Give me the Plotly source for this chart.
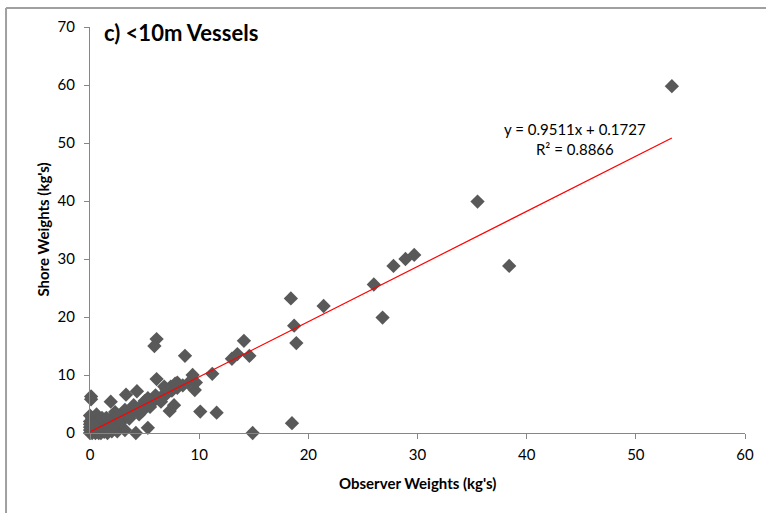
import plotly.graph_objects as go

# Observer weights (x) and shore weights (y), kg
observer = [
    53.3, 35.5, 38.4, 29.7, 28.9, 27.8, 26.0, 26.8, 21.4, 18.4, 18.7, 18.9, 18.5, 14.9,
    14.1, 14.6, 13.5, 13.0, 11.2, 11.6, 10.1, 9.4, 9.7, 9.6, 8.7, 6.1, 5.9, 6.1,
    4.3, 3.3, 1.9, 0.1, 0.1, 7.3, 7.7, 4.2, 5.3, 8.0, 7.4,
    0.0, 0.2, 0.5, 0.8, 1.0, 1.3, 1.6, 2.0, 2.5, 0.0, 0.3, 0.0, 0.5, 0.0, 0.0, 0.2,
    0.0, 0.4, 0.8, 1.0, 1.2, 1.5, 1.8, 2.2, 2.5, 3.0, 2.8, 3.2, 0.6,
    2.0, 2.5, 3.0, 3.5, 4.0, 4.5, 5.0, 5.5, 6.0, 6.5, 7.0, 7.5, 8.0, 8.5, 4.0, 5.0,
    6.0, 7.0, 5.5, 6.5, 3.6, 4.5, 7.8, 6.8, 5.3, 4.8, 3.2, 1.4, 2.3, 9.0,
    0.7, 1.1, 1.7, 2.7, 0.3, 1.5, 2.1,
]
shore = [
    59.8, 39.9, 28.8, 30.7, 30.0, 28.8, 25.6, 19.9, 21.9, 23.2, 18.5, 15.5, 1.7, 0.0,
    15.9, 13.3, 13.6, 12.8, 10.2, 3.5, 3.7, 10.0, 8.7, 7.4, 13.3, 16.2, 15.0, 9.3,
    7.2, 6.6, 5.4, 6.3, 5.8, 3.8, 4.8, 0.0, 0.9, 8.7, 8.0,
    0.0, 0.0, 0.0, 0.0, 0.0, 0.2, 0.0, 0.3, 0.3, 0.5, 0.7, 1.0, 1.2, 1.5, 2.0, 2.5,
    3.0, 2.0, 1.0, 1.5, 0.8, 1.3, 1.8, 1.2, 2.0, 2.2, 1.0, 0.5, 3.2,
    2.6, 2.8, 3.0, 3.5, 3.8, 4.3, 4.6, 5.2, 5.8, 6.2, 6.7, 7.3, 7.8, 8.2, 4.8, 5.5,
    6.5, 7.5, 4.5, 5.4, 2.5, 3.2, 8.5, 8.0, 6.0, 3.8, 4.0, 2.4, 3.6, 8.6,
    2.3, 2.6, 0.6, 1.6, 1.4, 2.6, 0.9,
]

slope = 0.9511
intercept = 0.1727
r2 = 0.8866
x_ticks = [0, 10, 20, 30, 40, 50, 60]
y_ticks = [0, 10, 20, 30, 40, 50, 60, 70]

fit_x = [0.0, max(observer)]
fit_y = [slope * v + intercept for v in fit_x]

FONT = "Lato, 'Open Sans', sans-serif"
AXIS_COLOR = "#868686"

fig = go.Figure()
fig.add_trace(go.Scatter(
    x=observer, y=shore, mode="markers",
    marker=dict(symbol="diamond", size=11, color="#595959", line=dict(width=0)),
    cliponaxis=False, showlegend=False,
))
fig.add_trace(go.Scatter(
    x=fit_x, y=fit_y, mode="lines",
    line=dict(color="#ff0000", width=1.2),
    cliponaxis=False, showlegend=False,
))

L, R, T, B = 90, 13, 27, 80
W, H = 766, 513
pw = W - L - R
ph = H - T - B

def px(xp):
    return (xp - L) / pw

def py(yp):
    return (H - B - yp) / ph

fig.update_layout(
    width=W, height=H,
    margin=dict(l=L, r=R, t=T, b=B),
    paper_bgcolor="white", plot_bgcolor="white",
    font=dict(family=FONT, color="#000000", size=15),
    xaxis=dict(
        range=[0, 60], tickvals=x_ticks, ticktext=[str(v) for v in x_ticks],
        showgrid=False, zeroline=False, showline=True, linecolor=AXIS_COLOR, linewidth=1,
        ticks="outside", ticklen=5, tickcolor=AXIS_COLOR, tickfont=dict(size=15, family=FONT),
        ticklabelstandoff=3,
    ),
    yaxis=dict(
        range=[0, 70], tickvals=y_ticks, ticktext=[str(v) for v in y_ticks],
        showgrid=False, zeroline=False, showline=True, linecolor=AXIS_COLOR, linewidth=1,
        ticks="outside", ticklen=5, tickcolor=AXIS_COLOR, tickfont=dict(size=15, family=FONT),
        ticklabelstandoff=6,
    ),
    annotations=[
        dict(text="<b>c) &lt;10m Vessels</b>", xref="paper", yref="paper",
             x=px(102), y=py(33), xanchor="left", yanchor="middle", showarrow=False,
             font=dict(size=22, family=FONT, color="#000000")),
        dict(text=f"y = {slope}x + {intercept}<br>R² = {r2}", xref="paper", yref="paper",
             x=px(581), y=py(139), xanchor="center", yanchor="middle", showarrow=False,
             align="center", font=dict(size=15, family=FONT, color="#000000")),
        dict(text="<b>Shore Weights (kg's)</b>", xref="paper", yref="paper",
             x=px(42), y=py(230), xanchor="center", yanchor="middle", showarrow=False,
             textangle=-90, font=dict(size=15, family=FONT, color="#000000")),
        dict(text="<b>Observer Weights (kg's)</b>", xref="paper", yref="paper",
             x=px(421), y=py(483), xanchor="center", yanchor="middle", showarrow=False,
             font=dict(size=15, family=FONT, color="#000000")),
    ],
    shapes=[
        dict(type="line", xref="paper", yref="paper", x0=px(5), x1=px(5), y0=py(8), y1=py(520),
             line=dict(color="#a0a0a0", width=2)),
        dict(type="line", xref="paper", yref="paper", x0=px(5), x1=px(780), y0=py(8), y1=py(8),
             line=dict(color="#a0a0a0", width=2)),
    ],
)

fig.write_html("out.html")
